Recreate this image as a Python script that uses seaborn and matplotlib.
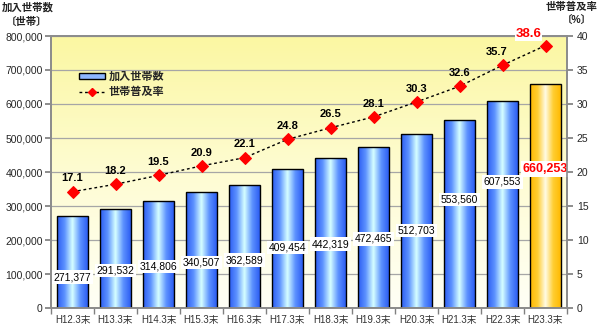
import numpy as np
import pandas as pd
import matplotlib
matplotlib.use("Agg")
import matplotlib.pyplot as plt
import seaborn as sns
from matplotlib.colors import LinearSegmentedColormap
from matplotlib.lines import Line2D
from matplotlib.patches import Patch
from matplotlib.ticker import FuncFormatter, MultipleLocator

# ---- data ----
periods = ["H12.3末", "H13.3末", "H14.3末", "H15.3末", "H16.3末", "H17.3末",
           "H18.3末", "H19.3末", "H20.3末", "H21.3末", "H22.3末", "H23.3末"]
households = [271377, 291532, 314806, 340507, 362589, 409454,
              442319, 472465, 512703, 553560, 607553, 660253]
penetration = [17.1, 18.2, 19.5, 20.9, 22.1, 24.8, 26.5, 28.1, 30.3, 32.6, 35.7, 38.6]

# vertical placement of the boxed count labels inside the bars
label_heights = [91000, 110000, 123000, 133000, 141000, 177000,
                 188000, 203000, 227000, 320000, 371000, 409000]

sns.set_theme(style="ticks")
plt.rcParams["font.family"] = ["Liberation Sans", "Noto Sans CJK JP"]

fig = plt.figure(figsize=(6, 3.25), dpi=100)
ax = fig.add_axes([51 / 600, 17 / 325, 516 / 600, 272 / 325])

df = pd.DataFrame({"period": periods, "households": households})
sns.barplot(data=df, x="period", y="households", ax=ax, width=0.7,
            color="#4F81FF", saturation=1, edgecolor="black", linewidth=1)

# plot-area background: pale yellow fading to cream towards the bottom
bg = LinearSegmentedColormap.from_list("bg", ["#FFFFF6", "#FEFCD2", "#FBF7A2"])
ax.imshow(np.linspace(0, 1, 256).reshape(-1, 1), cmap=bg, origin="lower",
          extent=[0, 1, 0, 1], transform=ax.transAxes, aspect="auto",
          zorder=0, interpolation="bilinear")

# cylinder-like horizontal gradient on every bar
blue = LinearSegmentedColormap.from_list(
    "blue", ["#2B5CF2", "#5E93FF", "#D6FFFF", "#5E93FF", "#2B5CF2"])
gold = LinearSegmentedColormap.from_list(
    "gold", ["#FFB900", "#FFCE33", "#FFFBE6", "#FFCE33", "#FFB900"])
grad = np.linspace(0, 1, 256).reshape(1, -1)
for i, p in enumerate(ax.patches):
    x0, y0, w, h = p.get_x(), p.get_y(), p.get_width(), p.get_height()
    cmap = gold if i == len(households) - 1 else blue
    im = ax.imshow(grad, cmap=cmap, extent=[x0, x0 + w, y0, y0 + h],
                   aspect="auto", zorder=2.5, interpolation="bilinear")
    im.set_clip_path(p)
    p.set_facecolor("none")
    p.set_zorder(3)

# count labels
for i, (v, yl) in enumerate(zip(households, label_heights)):
    last = i == len(households) - 1
    ax.text(i, yl, f"{v:,}", ha="center", va="center",
            fontsize=9 if last else 7.5, fontweight="bold" if last else "normal",
            color="#FF0000" if last else "black", zorder=6,
            bbox=dict(facecolor="white", edgecolor="none", pad=1.2))

ax.set_xlim(-0.5, len(periods) - 0.5)
ax.set_ylim(0, 800000)
ax.yaxis.set_major_locator(MultipleLocator(100000))
ax.yaxis.set_major_formatter(FuncFormatter(lambda v, _: f"{int(v):,}"))
ax.set_xlabel("")
ax.set_ylabel("")
ax.set_xticks(range(len(periods)))
ax.set_xticklabels(periods)
ax.set_xticks(np.arange(-0.5, len(periods)), minor=True)
ax.tick_params(axis="x", which="major", length=0, labelsize=7,
               labelcolor="#333333", pad=5)
ax.tick_params(axis="x", which="minor", length=4, color="#808080")
ax.tick_params(axis="y", length=4, color="#808080", labelsize=7.5, pad=2)
ax.yaxis.grid(True, color="#A6A6A6", linewidth=0.9)
ax.set_axisbelow(True)
for s in ax.spines.values():
    s.set_color("#8C8C8C")
    s.set_visible(True)

# penetration rate on the secondary axis
ax2 = ax.twinx()
sns.lineplot(x=np.arange(len(penetration)), y=penetration, ax=ax2,
             color="black", linewidth=1, linestyle=(0, (2, 2)),
             marker="D", markersize=6.5, markerfacecolor="#FF0000",
             markeredgecolor="#FF0000", zorder=5)
ax2.set_ylim(0, 40)
ax2.yaxis.set_major_locator(MultipleLocator(5))
ax2.tick_params(axis="y", length=4, color="#808080", labelsize=7.5, pad=3)
ax2.set_ylabel("")
ax.set_xlim(-0.5, len(periods) - 0.5)
for s in ax2.spines.values():
    s.set_color("#8C8C8C")

n = len(penetration)
for i, v in enumerate(penetration):
    last = i == n - 1
    dx = -12 if last else (-4 if i == n - 2 else 0)
    ax2.annotate(f"{v:.1f}", (i, v), xytext=(dx, 4 if last else 6),
                 textcoords="offset points", ha="center", va="bottom",
                 fontsize=9.5 if last else 8, fontweight="bold",
                 color="#FF0000" if last else "black",
                 bbox=dict(facecolor="white", edgecolor="none", pad=0.5) if last else None)

handles = [
    Patch(facecolor="#8DB6FF", edgecolor="black", linewidth=1, label="加入世帯数"),
    Line2D([], [], color="black", linewidth=1, linestyle=(0, (2, 2)), marker="D",
           markersize=4, markerfacecolor="#FF0000", markeredgecolor="#FF0000",
           label="世帯普及率"),
]
ax2.legend(handles=handles, loc="upper left", bbox_to_anchor=(0.045, 0.885),
           frameon=False, prop={"size": 8, "weight": "bold"},
           handlelength=2.4, handleheight=0.55,
           handletextpad=0.3, labelspacing=0.45, borderaxespad=0)

# axis captions
fig.text(2 / 600, 1 - 7 / 325, "加入世帯数", ha="left", va="center",
         fontsize=7.5, fontweight="bold", color="#222222")
fig.text(27 / 600, 1 - 22 / 325, "〔世帯〕", ha="center", va="center",
         fontsize=7.5, fontweight="bold", color="#222222")
fig.text(598 / 600, 1 - 7 / 325, "世帯普及率", ha="right", va="center",
         fontsize=7.5, fontweight="bold", color="#222222")
fig.text(577 / 600, 1 - 20 / 325, "〔%〕", ha="center", va="center",
         fontsize=7.5, fontweight="bold", color="#222222")

fig.savefig("out.png", dpi=100)
